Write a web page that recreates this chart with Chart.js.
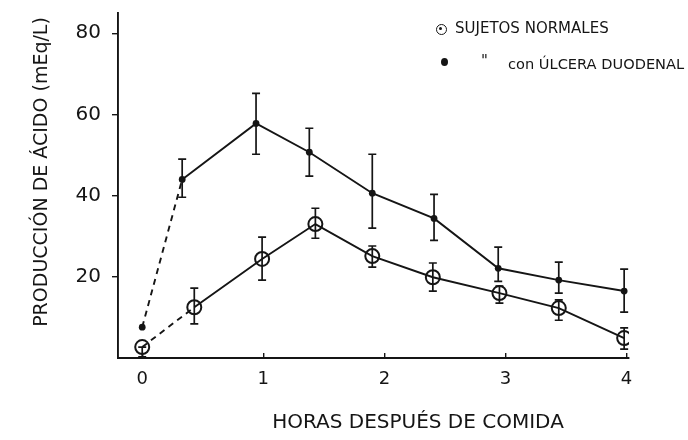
<!DOCTYPE html>
<html>
<head>
<meta charset="utf-8">
<script src="https://cdn.jsdelivr.net/npm/chart.js@4.4.1/dist/chart.umd.min.js"></script>
<style>
  html, body { margin: 0; padding: 0; background: #fff; }
  #wrap { position: relative; width: 688px; height: 440px; font-family: "DejaVu Sans", sans-serif; color: #151515; }
  #wrap canvas { position: absolute; left: 0; top: 0; }
  .txt { position: absolute; white-space: nowrap; }
  .mk-open { position: absolute; width: 11px; height: 11px; border: 1.8px solid #151515; border-radius: 50%; box-sizing: border-box; }
  .mk-open::after { content: ""; position: absolute; left: 2.2px; top: 2.2px; width: 3px; height: 3px; background: #151515; border-radius: 50%; }
  .mk-fill { position: absolute; width: 7px; height: 8px; background: #151515; border-radius: 50%; }
</style>
</head>
<body>
<div id="wrap">
  <canvas id="c" width="688" height="440"></canvas>
  <div class="txt" id="ytitle" style="left:-130px; top:161px; width:340px; text-align:center; font-size:19px; transform:rotate(-90deg);">PRODUCCIÓN DE ÁCIDO (mEq/L)</div>
  <div class="txt" id="xtitle" style="left:258px; top:409px; width:320px; text-align:center; font-size:20px;">HORAS DESPUÉS DE COMIDA</div>
  <div class="mk-open" style="left:436px; top:24px;"></div>
  <div class="txt" style="left:455px; top:19px; font-size:15px;">SUJETOS NORMALES</div>
  <div class="mk-fill" style="left:441px; top:58px;"></div>
  <div class="txt" style="left:481px; top:52px; font-size:15px;">"</div>
  <div class="txt" style="left:508px; top:55px; font-size:14.6px;">con ÚLCERA DUODENAL</div>
</div>
<script>
// ---- data ----
const hours = [0, 0.43, 0.99, 1.43, 1.90, 2.40, 2.95, 3.44, 3.98];
const hoursUlcer = [0, 0.33, 0.94, 1.38, 1.90, 2.41, 2.94, 3.44, 3.98];

const normal   = [2.7, 12.5, 24.4, 33.0, 25.1, 19.9, 16.0, 12.3, 4.9];
const normalHi = [2.7, 17.2, 29.8, 36.9, 27.6, 23.4, 17.7, 14.3, 7.4];
const normalLo = [0.3,  8.4, 19.2, 29.5, 22.4, 16.5, 13.5,  9.3, 2.2];

const ulcer   = [7.6, 44.0, 57.8, 50.7, 40.6, 34.4, 22.1, 19.2, 16.5];
const ulcerHi = [null, 49.0, 65.2, 56.6, 50.2, 40.3, 27.3, 23.6, 21.9];
const ulcerLo = [null, 39.6, 50.2, 44.8, 32.0, 29.0, 18.9, 16.0, 11.3];

const xTicks = [0, 1, 2, 3, 4];
const xTickLabels = ['0', '1', '2', '3', '4'];
const yTicks = [20, 40, 60, 80];
const yTickLabels = ['20', '40', '60', '80'];

const seriesNames = ['Sujetos normales', 'Sujetos con úlcera duodenal'];

// ---- chart ----
const INK = '#151515';
const toPts = (xs, ys) => xs.map((x, i) => ({ x: x, y: ys[i] }));
const dashFirst = ctx => ctx.p0DataIndex === 0 ? [6, 5] : undefined;

const errBars = {
  id: 'errBars',
  afterDatasetsDraw(chart) {
    const { ctx, scales: { x, y } } = chart;
    ctx.save();
    ctx.strokeStyle = INK;
    ctx.lineWidth = 1.7;
    chart.data.datasets.forEach(ds => {
      ds.errHi.forEach((hi, i) => {
        const lo = ds.errLo[i];
        if (hi == null || lo == null) return;
        const px = x.getPixelForValue(ds.data[i].x);
        const pHi = y.getPixelForValue(hi);
        const pLo = y.getPixelForValue(lo);
        ctx.beginPath();
        ctx.moveTo(px, pHi); ctx.lineTo(px, pLo);
        ctx.moveTo(px - 4, pHi); ctx.lineTo(px + 4, pHi);
        ctx.moveTo(px - 4, pLo); ctx.lineTo(px + 4, pLo);
        ctx.stroke();
      });
    });
    ctx.restore();
  }
};

new Chart(document.getElementById('c'), {
  type: 'line',
  data: {
    datasets: [
      {
        label: seriesNames[0],
        data: toPts(hours, normal),
        errHi: normalHi, errLo: normalLo,
        borderColor: INK, borderWidth: 1.9, tension: 0,
        pointStyle: 'circle', pointRadius: 7, pointBorderWidth: 2,
        pointBackgroundColor: 'rgba(0,0,0,0)', pointBorderColor: INK,
        segment: { borderDash: dashFirst }
      },
      {
        label: seriesNames[1],
        data: toPts(hoursUlcer, ulcer),
        errHi: ulcerHi, errLo: ulcerLo,
        borderColor: INK, borderWidth: 1.9, tension: 0,
        pointStyle: 'circle', pointRadius: 3.4, pointBorderWidth: 0,
        pointBackgroundColor: INK, pointBorderColor: INK,
        segment: { borderDash: dashFirst }
      }
    ]
  },
  options: {
    responsive: false,
    animation: false,
    layout: { padding: { left: 0, right: 59, top: 13, bottom: 0 } },
    plugins: { legend: { display: false }, tooltip: { enabled: false } },
    scales: {
      x: {
        type: 'linear', min: -0.2, max: 4.02,
        afterFit: s => { s.height = 82; s.paddingLeft = 0; s.paddingRight = 0; },
        afterBuildTicks: s => { s.ticks = xTicks.map(v => ({ value: v })); },
        ticks: {
          autoSkip: false, maxRotation: 0, padding: 16, color: INK,
          font: { family: 'DejaVu Sans', size: 18 },
          callback: v => xTickLabels[xTicks.indexOf(v)]
        },
        grid: { drawOnChartArea: false, drawTicks: true, tickLength: -5, color: INK, lineWidth: 1.4 },
        border: { display: true, color: INK, width: 1.9 }
      },
      y: {
        type: 'linear', min: 0, max: 85,
        afterFit: s => { s.width = 118; s.paddingTop = 0; s.paddingBottom = 0; },
        afterBuildTicks: s => { s.ticks = yTicks.map(v => ({ value: v })); },
        ticks: {
          autoSkip: false, padding: 11, color: INK,
          font: { family: 'DejaVu Sans', size: 20 },
          callback: v => yTickLabels[yTicks.indexOf(v)]
        },
        grid: { drawOnChartArea: false, drawTicks: true, tickLength: 6, color: INK, lineWidth: 1.4 },
        border: { display: true, color: INK, width: 1.9 }
      }
    }
  },
  plugins: [errBars]
});
</script>
</body>
</html>
